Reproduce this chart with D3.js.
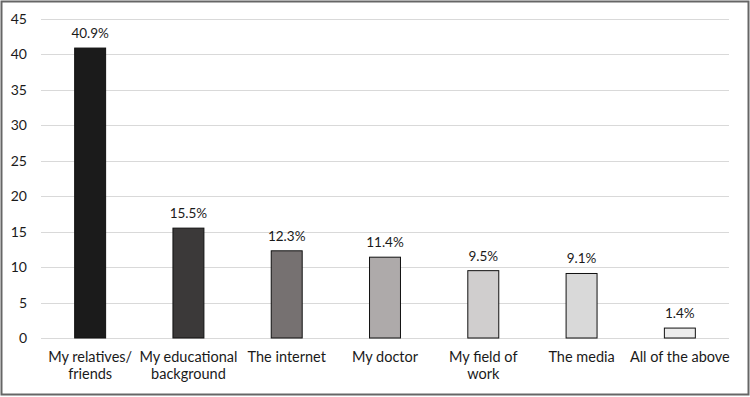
<!DOCTYPE html>
<html>
<head>
<meta charset="utf-8">
<title>Sources</title>
<style type="text/css">
body { margin: 0; background: #fff; }
text { font-family: Lato, "Open Sans", sans-serif; fill: #1a1a1a; }
</style>
<script src="https://cdn.jsdelivr.net/npm/d3@7/dist/d3.min.js"></script>
</head>
<body>
<script type="text/javascript">
var categories = ["My relatives/|friends", "My educational|background", "The internet", "My doctor", "My field of|work", "The media", "All of the above"];
var values = [40.9, 15.5, 12.3, 11.4, 9.5, 9.1, 1.4];
var fills = ["#1b1b1b", "#3b3939", "#767171", "#aeaaaa", "#d0cece", "#d9d9d9", "#ececec"];
var yTicks = [0, 5, 10, 15, 20, 25, 30, 35, 40, 45];

var width = 750, height = 397;
var margin = {top: 19, right: 21, bottom: 59, left: 41};

var svg = d3.select("body").append("svg")
	.attr("width", width)
	.attr("height", height);

// frame
svg.append("rect")
	.attr("x", 1.5).attr("y", 1.5)
	.attr("width", width - 3).attr("height", height - 4)
	.attr("fill", "none")
	.attr("stroke", "#666")
	.attr("stroke-width", 2);

var x = d3.scaleBand()
	.domain(categories)
	.range([margin.left, width - margin.right])
	.paddingInner(0.685)
	.paddingOuter(0.3425);

var y = d3.scaleLinear()
	.domain([0, 45])
	.range([height - margin.bottom, margin.top]);

// grid lines
svg.append("g")
	.selectAll("line")
	.data(yTicks)
	.enter().append("line")
	.attr("x1", margin.left).attr("x2", width - margin.right)
	.attr("y1", function(d) { return Math.round(y(d)) + 0.5; })
	.attr("y2", function(d) { return Math.round(y(d)) + 0.5; })
	.attr("stroke", "#d9d9d9")
	.attr("stroke-width", 1);

// y axis labels
var yAxis = d3.axisLeft(y).tickValues(yTicks).tickSize(0).tickPadding(14);
var gy = svg.append("g")
	.attr("transform", "translate(" + margin.left + ",0)")
	.call(yAxis);
gy.select(".domain").remove();
gy.selectAll("text").style("font-size", "14px").attr("fill", "#1a1a1a");

// bars
svg.append("g")
	.selectAll("rect")
	.data(values)
	.enter().append("rect")
	.attr("x", function(d, i) { return x(categories[i]); })
	.attr("y", function(d) { return y(d); })
	.attr("width", x.bandwidth())
	.attr("height", function(d) { return y(0) - y(d); })
	.attr("fill", function(d, i) { return fills[i]; })
	.attr("stroke", "#111")
	.attr("stroke-width", 1);

// value labels
svg.append("g")
	.selectAll("text")
	.data(values)
	.enter().append("text")
	.attr("x", function(d, i) { return x(categories[i]) + x.bandwidth() / 2; })
	.attr("y", function(d) { return y(d) - 10; })
	.attr("text-anchor", "middle")
	.style("font-size", "13.5px")
	.text(function(d) { return d.toFixed(1) + "%"; });

// category labels
var lab = svg.append("g")
	.selectAll("text")
	.data(categories)
	.enter().append("text")
	.attr("x", function(d) { return x(d) + x.bandwidth() / 2; })
	.attr("y", y(0) + 24)
	.attr("text-anchor", "middle")
	.style("font-size", "14.5px");
lab.selectAll("tspan")
	.data(function(d) { return d.split("|"); })
	.enter().append("tspan")
	.attr("x", function() { return d3.select(this.parentNode).attr("x"); })
	.attr("dy", function(d, i) { return i ? 17 : 0; })
	.text(function(d) { return d; });
</script>
</body>
</html>
